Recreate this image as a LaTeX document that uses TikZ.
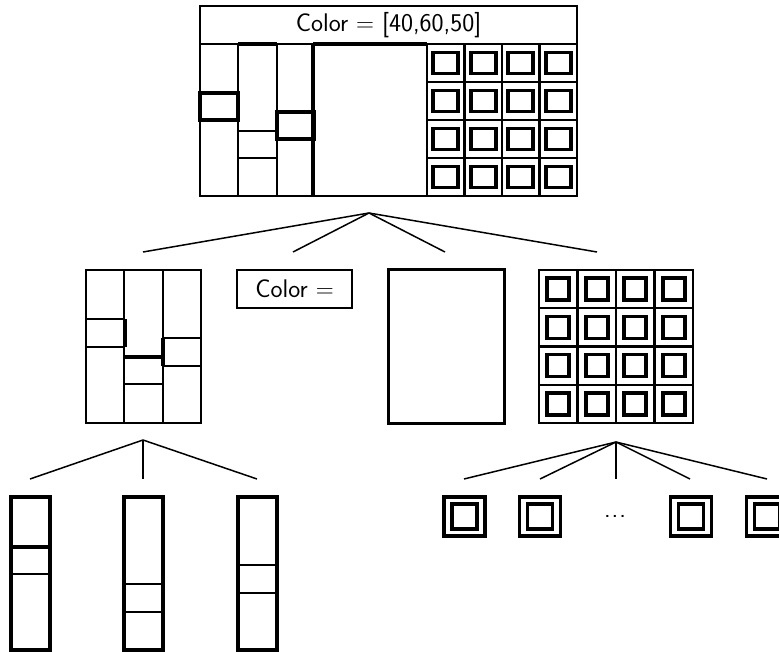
\documentclass[tikz,border=0pt]{standalone}
\usetikzlibrary{fit}
\begin{document}
\begin{tikzpicture}[x=1pt,y=-1pt,
  frame/.style={draw, line width=2.2pt, inner sep=0pt, outer sep=0pt},
  heavyframe/.style={draw, line width=3.6pt, inner sep=0pt, outer sep=0pt},
  fine/.style={line width=2.2pt},
  heavy/.style={line width=3.6pt},
  link/.style={line width=1.5pt},
  lbl/.style={font=\sffamily\fontsize{25.5}{30}\selectfont, inner sep=0pt}]
\useasboundingbox (0,0) rectangle (779,652);
\clip (0,0) rectangle (779,652);

% ---------- top node ----------
\node[frame, fit={(200,6)(577,196)}] (top) {};
\node[lbl] (title) at (388.5,25) {Color $=$ [40,60,50]};
\draw[fine] (200,44) -- (577,44);
\draw[heavy] (238,44) -- (277,44);
\draw[heavy] (313,44) -- (427,44);
\draw[fine] (238,44) -- (238,196);
\draw[fine] (277,44) -- (277,196);
\draw[heavy] (313,44) -- (313,196);
\draw[fine] (427,44) -- (427,196);
\draw[heavy] (200,93) rectangle (238,120);
\draw[fine] (238,131) -- (277,131);
\draw[fine] (238,158) -- (277,158);
\draw[heavy] (277,112) rectangle (314,139);
\foreach \i in {1,2,3} {
  \draw[fine] ({427+37.5*\i},44) -- ({427+37.5*\i},196);
  \draw[fine] (427,{44+38*\i}) -- (577,{44+38*\i});
}
\foreach \i in {0,1,2,3} \foreach \j in {0,1,2,3} {
  \draw[heavy] ({427+37.5*\i+6.25},{44+38*\j+8.5}) rectangle +(25,21);
}

% ---------- connectors from top ----------
\coordinate (r0) at (369,213);
\coordinate (e1) at (143,252);
\coordinate (e2) at (293,252);
\coordinate (e3) at (445,252);
\coordinate (e4) at (597,252);
\foreach \e in {e1,e2,e3,e4} \draw[link] (r0) -- (\e);

% ---------- middle level ----------
\node[frame, fit={(86,270)(201,423)}] (midA) {};
\draw[fine] (124,270) -- (124,423);
\draw[fine] (163,270) -- (163,423);
\draw[fine] (86,319) -- (125,319);
\draw[fine] (86,347) -- (125,347);
\draw[heavy] (125,319) -- (125,347);
\draw[heavy] (124,357) -- (163,357);
\draw[fine] (124,384) -- (163,384);
\draw[fine] (163,338) -- (201,338);
\draw[fine] (163,366) -- (201,366);
\draw[heavy] (163,338) -- (163,366);

\node[frame, lbl, minimum width=115pt, minimum height=38pt] (midC) at (294.5,289) {Color $=$};

\node[draw, line width=3pt, inner sep=0pt, fit={(388,270)(504,423)}] (midR) {};

\node[frame, fit={(539,270)(693,423)}] (midG) {};
\foreach \i in {1,2,3} {
  \draw[fine] ({539+38.5*\i},270) -- ({539+38.5*\i},423);
  \draw[fine] (539,{270+38.25*\i}) -- (693,{270+38.25*\i});
}
\foreach \i in {0,1,2,3} \foreach \j in {0,1,2,3} {
  \draw[heavy] ({539+38.5*\i+8.25},{270+38.25*\j+8.1}) rectangle +(22,22);
}

% ---------- connectors from middle ----------
\coordinate (ra) at (143,440);
\coordinate (f1) at (30,479);
\coordinate (f2) at (143,479);
\coordinate (f3) at (257,479);
\foreach \e in {f1,f2,f3} \draw[link] (ra) -- (\e);
\coordinate (rg) at (616,442);
\coordinate (g1) at (464,479);
\coordinate (g2) at (540,479);
\coordinate (g3) at (616,479);
\coordinate (g4) at (690,479);
\coordinate (g5) at (767,479);
\foreach \e in {g1,g2,g3,g4,g5} \draw[link] (rg) -- (\e);

% ---------- bottom strips ----------
\node[heavyframe, fit={(11,497)(50,650)}] (s1) {};
\draw[heavy] (11,547) -- (50,547);
\draw[fine] (11,574) -- (50,574);
\node[heavyframe, fit={(124,497)(163,650)}] (s2) {};
\draw[fine] (124,584) -- (163,584);
\draw[fine] (124,612) -- (163,612);
\node[heavyframe, fit={(238,497)(277,650)}] (s3) {};
\draw[fine] (238,565) -- (277,565);
\draw[fine] (238,593) -- (277,593);

% ---------- bottom icons ----------
\foreach \n/\cx in {i1/464.5, i2/540, i3/691, i4/767} {
  \node[heavyframe, minimum width=41pt, minimum height=39pt] (\n) at (\cx,516.5) {};
  \draw[heavy] ({\cx-12.5},504) rectangle ({\cx+12.5},529);
}
\node[lbl] (dots) at (615,516) {.\kern1pt.\kern1pt.};
\end{tikzpicture}
\end{document}
